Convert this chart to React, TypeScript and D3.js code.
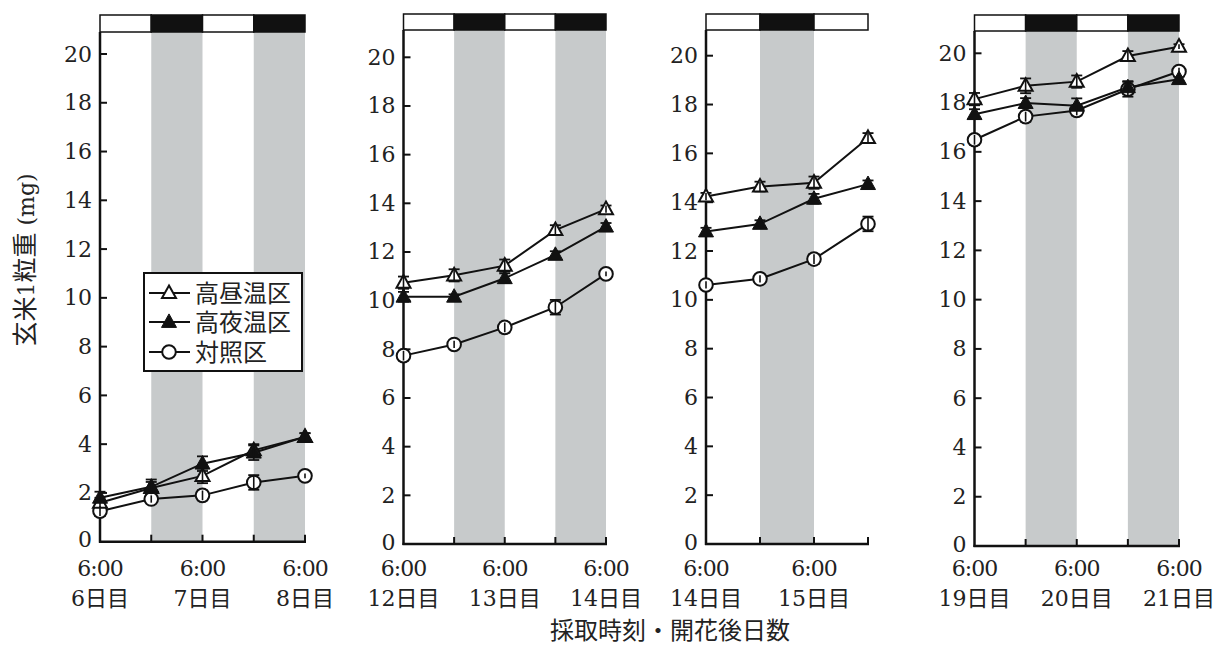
import React from "react";
import * as d3 from "d3";

// ---------- data ----------
const seriesNames = ["高昼温区", "高夜温区", "対照区"];
const timeLabel = "6:00";
const dayLabels = [
  ["6日目", "7日目", "8日目"],
  ["12日目", "13日目", "14日目"],
  ["14日目", "15日目"],
  ["19日目", "20日目", "21日目"],
];
const highDay = [
  [1.6, 2.2, 2.7, 3.75, 4.3],
  [10.74, 11.04, 11.44, 12.9, 13.76],
  [14.23, 14.64, 14.8, 16.63],
  [18.14, 18.68, 18.85, 19.89, 20.27],
];
const highDayErr = [
  [0.2, 0.25, 0.3, 0.25, 0.15],
  [0.25, 0.25, 0.25, 0.2, 0.15],
  [0.15, 0.2, 0.25, 0.2],
  [0.25, 0.3, 0.25, 0.2, 0.1],
];
const highNight = [
  [1.8, 2.25, 3.2, 3.65, 4.3],
  [10.16, 10.16, 10.92, 11.88, 13.04],
  [12.8, 13.11, 14.14, 14.74],
  [17.53, 17.98, 17.87, 18.62, 18.95],
];
const highNightErr = [
  [0.25, 0.3, 0.3, 0.3, 0.15],
  [0.2, 0.1, 0.2, 0.15, 0.15],
  [0.15, 0.15, 0.2, 0.15],
  [0.2, 0.2, 0.3, 0.25, 0.1],
];
const control = [
  [1.25, 1.75, 1.9, 2.43, 2.7],
  [7.74, 8.2, 8.9, 9.73, 11.1],
  [10.61, 10.86, 11.67, 13.11],
  [16.49, 17.43, 17.68, 18.54, 19.26],
];
const controlErr = [
  [0.2, 0.15, 0.2, 0.3, 0.1],
  [0.2, 0.15, 0.2, 0.3, 0.1],
  [0.15, 0.15, 0.2, 0.3],
  [0.2, 0.2, 0.2, 0.3, 0.15],
];
const yTicks = [0, 2, 4, 6, 8, 10, 12, 14, 16, 18, 20];
const yLabel = "玄米1粒重 (mg)";
const xTitle = "採取時刻・開花後日数";

// ---------- layout ----------
const panels = [
  { x0: 100, x1: 305, yZero: 541.7, yTop: 54, barTop: 15, barBot: 32 },
  { x0: 403.5, x1: 606, yZero: 544, yTop: 57.3, barTop: 14, barBot: 30 },
  { x0: 706, x1: 868, yZero: 544, yTop: 55.7, barTop: 14, barBot: 30 },
  { x0: 974.5, x1: 1179, yZero: 546, yTop: 53.3, barTop: 15, barBot: 31 },
];
const SHADE = "#c7cacb";
const SERIF = "'DejaVu Serif', 'Noto Sans CJK JP', serif";
const JP_FONT = "'Noto Sans CJK JP', sans-serif";

function triPath(cx: number, cy: number, s: number) {
  const h = s * 0.9;
  return `M${cx},${cy - h * 0.6}L${cx + s / 2},${cy + h * 0.4}L${cx - s / 2},${cy + h * 0.4}Z`;
}

function Marker({ kind, cx, cy }: { kind: number; cx: number; cy: number }) {
  if (kind === 0)
    return <path d={triPath(cx, cy, 14)} fill="#fff" stroke="#111" strokeWidth={2} />;
  if (kind === 1)
    return <path d={triPath(cx, cy, 15)} fill="#111" stroke="#111" strokeWidth={1} />;
  return <circle cx={cx} cy={cy} r={6.8} fill="#fff" stroke="#111" strokeWidth={2} />;
}

// split a label into latin (serif) and CJK runs
function mixed(label: string, latinSize: number, cjkSize: number) {
  const parts = label.match(/[\u3000-\u9fff\uff00-\uffef]+|[^\u3000-\u9fff\uff00-\uffef]+/g) || [];
  return parts.map((t, k) =>
    /[\u3000-\u9fff\uff00-\uffef]/.test(t) ? (
      <tspan key={k} style={{ fontFamily: JP_FONT, fontSize: cjkSize }}>
        {t}
      </tspan>
    ) : (
      <tspan key={k} style={{ fontFamily: SERIF, fontSize: latinSize }}>
        {t}
      </tspan>
    )
  );
}

function Panel({ idx }: { idx: number }) {
  const p = panels[idx];
  const n = highDay[idx].length;
  const x = d3.scaleLinear().domain([0, n - 1]).range([p.x0, p.x1]);
  const y = d3.scaleLinear().domain([0, 20]).range([p.yZero, p.yTop]);
  const line = d3
    .line<number>()
    .x((_, i) => x(i))
    .y((d) => y(d));
  const all = [
    { vals: control[idx], errs: controlErr[idx], kind: 2 },
    { vals: highDay[idx], errs: highDayErr[idx], kind: 0 },
    { vals: highNight[idx], errs: highNightErr[idx], kind: 1 },
  ];
  const segs = d3.range(n - 1);
  return (
    <g>
      {segs
        .filter((i) => i % 2 === 1)
        .map((i) => (
          <rect key={"sh" + i} x={x(i)} y={p.barBot} width={x(i + 1) - x(i)} height={p.yZero - p.barBot} fill={SHADE} />
        ))}
      {segs.map((i) => (
        <rect
          key={"bar" + i}
          x={x(i)}
          y={p.barTop}
          width={x(i + 1) - x(i)}
          height={p.barBot - p.barTop}
          fill={i % 2 === 1 ? "#111" : "#fff"}
          stroke="#111"
          strokeWidth={1.5}
        />
      ))}
      <line x1={p.x0} x2={p.x0} y1={p.barBot} y2={p.yZero + 1} stroke="#111" strokeWidth={2.5} />
      <line x1={p.x0 - 1} x2={p.x1 + 1} y1={p.yZero} y2={p.yZero} stroke="#111" strokeWidth={2.5} />
      {yTicks.map((t) => (
        <g key={"yt" + t}>
          {t > 0 && <line x1={p.x0} x2={p.x0 + 7} y1={y(t)} y2={y(t)} stroke="#111" strokeWidth={2} />}
          <text
            x={p.x0 - 8}
            y={y(t) - (t === 0 ? 2 : 0)}
            textAnchor="end"
            dominantBaseline="central"
            style={{ fontFamily: SERIF, fontSize: 22 }}
            fill="#222"
          >
            {t}
          </text>
        </g>
      ))}
      {d3.range(n).map((i) => (
        <g key={"xt" + i}>
          {i > 0 && <line x1={x(i)} x2={x(i)} y1={p.yZero} y2={p.yZero - 7} stroke="#111" strokeWidth={2} />}
          {i % 2 === 0 && (
            <>
              <text
                x={x(i)}
                y={576}
                textAnchor="middle"
                style={{ fontFamily: SERIF, fontSize: 22, letterSpacing: -1 }}
                fill="#222"
              >
                {timeLabel}
              </text>
              <text x={x(i)} y={606} textAnchor="middle" fill="#222">
                {mixed(dayLabels[idx][i / 2], 22, 22)}
              </text>
            </>
          )}
        </g>
      ))}
      {all.map((s, si) => (
        <path key={"ln" + si} d={line(s.vals) || ""} fill="none" stroke="#111" strokeWidth={2} />
      ))}
      {all.map((s, si) =>
        s.vals.map((v, i) => (
          <g key={"eb" + si + "-" + i} stroke="#111" strokeWidth={1.8}>
            <line x1={x(i)} x2={x(i)} y1={y(v - s.errs[i])} y2={y(v + s.errs[i])} />
            <line x1={x(i) - 5.5} x2={x(i) + 5.5} y1={y(v + s.errs[i])} y2={y(v + s.errs[i])} />
            <line x1={x(i) - 5.5} x2={x(i) + 5.5} y1={y(v - s.errs[i])} y2={y(v - s.errs[i])} />
          </g>
        ))
      )}
      {all.map((s, si) =>
        s.vals.map((v, i) => <Marker key={"mk" + si + "-" + i} kind={s.kind} cx={x(i)} cy={y(v)} />)
      )}
      {all
        .filter((s) => s.kind !== 1)
        .map((s, si) =>
          s.vals.map((v, i) => (
            <line
              key={"eb2" + si + "-" + i}
              x1={x(i)}
              x2={x(i)}
              y1={y(v - s.errs[i])}
              y2={y(v + s.errs[i])}
              stroke="#111"
              strokeWidth={1.6}
            />
          ))
        )}
    </g>
  );
}

function Legend() {
  const bx = 144,
    by = 273,
    bw = 158,
    bh = 98;
  const rows = [293, 322, 352];
  return (
    <g>
      <rect x={bx} y={by} width={bw} height={bh} fill="#fff" stroke="#111" strokeWidth={2} />
      {seriesNames.map((name, i) => (
        <g key={name}>
          <line x1={149} x2={190} y1={rows[i]} y2={rows[i]} stroke="#111" strokeWidth={2} />
          <Marker kind={i} cx={169} cy={rows[i]} />
          <text x={195} y={rows[i] + 8.5} style={{ fontFamily: JP_FONT, fontSize: 24 }} fill="#222">
            {name}
          </text>
        </g>
      ))}
    </g>
  );
}

export default function App() {
  return (
    <svg
      width={1215}
      height={648}
      viewBox="0 0 1215 648"
      style={{ position: "absolute", left: 0, top: 0, background: "#fff" }}
    >
      <rect x={0} y={0} width={1215} height={648} fill="#fff" />
      {panels.map((_, i) => (
        <Panel key={i} idx={i} />
      ))}
      <Legend />
      <text transform="translate(34,260) rotate(-90)" textAnchor="middle" fill="#222">
        {mixed(yLabel, 22, 25)}
      </text>
      <text x={670} y={639} textAnchor="middle" style={{ fontFamily: JP_FONT, fontSize: 24 }} fill="#222">
        {xTitle}
      </text>
    </svg>
  );
}
